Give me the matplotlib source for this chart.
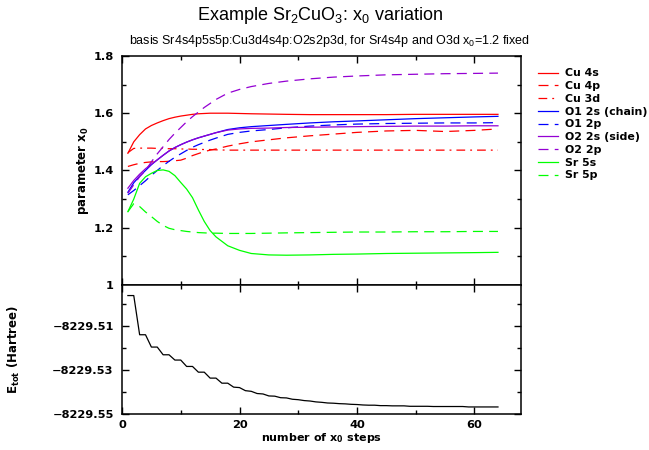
import numpy as np
import matplotlib
matplotlib.use("Agg")
import matplotlib.pyplot as plt
from matplotlib.ticker import MultipleLocator, FixedLocator, FuncFormatter

plt.rcParams['font.family'] = ['Liberation Sans', 'DejaVu Sans']
plt.rcParams['mathtext.default'] = 'regular'

# x0 parameters per step
steps = [1, 2, 3, 4, 5, 6, 7, 8, 9, 10, 11, 12, 13, 14, 15, 16, 18, 20, 22, 25, 28, 32, 36, 40, 45, 50, 55, 60, 64]
cu4s = [1.460, 1.500, 1.525, 1.545, 1.557, 1.566, 1.574, 1.581, 1.586, 1.590, 1.593, 1.596, 1.598, 1.599, 1.600,
        1.600, 1.600, 1.599, 1.598, 1.597, 1.596, 1.595, 1.595, 1.595, 1.595, 1.596, 1.596, 1.596, 1.596]
cu4p = [1.414, 1.420, 1.425, 1.428, 1.430, 1.431, 1.431, 1.432, 1.434, 1.436, 1.443, 1.452, 1.459, 1.466, 1.471,
        1.475, 1.485, 1.493, 1.500, 1.507, 1.514, 1.521, 1.527, 1.533, 1.538, 1.540, 1.536, 1.540, 1.545]
cu3d = [1.462, 1.477, 1.478, 1.478, 1.478, 1.477, 1.477, 1.476, 1.476, 1.475, 1.475, 1.474, 1.474, 1.473, 1.473,
        1.472, 1.471, 1.471, 1.471, 1.471, 1.471, 1.471, 1.471, 1.471, 1.471, 1.471, 1.471, 1.471, 1.471]
o1_2s = [1.324, 1.357, 1.380, 1.400, 1.420, 1.437, 1.453, 1.468, 1.480, 1.490, 1.499, 1.507, 1.514, 1.520, 1.526,
         1.532, 1.543, 1.549, 1.553, 1.557, 1.561, 1.566, 1.570, 1.573, 1.577, 1.581, 1.584, 1.587, 1.589]
o1_2p = [1.315, 1.330, 1.347, 1.364, 1.383, 1.400, 1.417, 1.432, 1.446, 1.458, 1.470, 1.481, 1.490, 1.498, 1.506,
         1.513, 1.526, 1.533, 1.538, 1.543, 1.549, 1.555, 1.559, 1.562, 1.564, 1.565, 1.566, 1.566, 1.567]
o2_2s = [1.338, 1.365, 1.387, 1.406, 1.422, 1.437, 1.453, 1.468, 1.480, 1.490, 1.499, 1.507, 1.514, 1.520, 1.526,
         1.532, 1.541, 1.545, 1.547, 1.548, 1.550, 1.551, 1.552, 1.553, 1.554, 1.555, 1.555, 1.556, 1.556]
o2_2p = [1.320, 1.350, 1.378, 1.400, 1.430, 1.458, 1.483, 1.508, 1.530, 1.550, 1.570, 1.588, 1.604, 1.620, 1.634,
         1.648, 1.670, 1.683, 1.693, 1.704, 1.712, 1.720, 1.726, 1.730, 1.734, 1.736, 1.738, 1.739, 1.740]
sr5s = [1.256, 1.300, 1.355, 1.378, 1.390, 1.400, 1.402, 1.397, 1.382, 1.358, 1.335, 1.305, 1.262, 1.222, 1.190,
        1.168, 1.137, 1.121, 1.110, 1.105, 1.104, 1.105, 1.107, 1.108, 1.110, 1.111, 1.112, 1.113, 1.114]
sr5p = [1.256, 1.284, 1.274, 1.255, 1.239, 1.222, 1.208, 1.198, 1.193, 1.190, 1.187, 1.185, 1.183, 1.182, 1.181,
        1.181, 1.180, 1.180, 1.180, 1.181, 1.182, 1.183, 1.184, 1.185, 1.185, 1.186, 1.186, 1.187, 1.187]

# total energy per step
e_steps = list(range(1, 65))
e_tot = [-8229.4962, -8229.4962, -8229.5140, -8229.5140, -8229.5196, -8229.5196, -8229.5231, -8229.5231,
         -8229.5255, -8229.5255, -8229.5284, -8229.5284, -8229.5310, -8229.5310, -8229.5337, -8229.5337,
         -8229.5360, -8229.5360, -8229.5378, -8229.5380, -8229.5394, -8229.5397, -8229.5407, -8229.5409,
         -8229.5418, -8229.5419, -8229.5426, -8229.5427, -8229.5433, -8229.5435, -8229.5439, -8229.5441,
         -8229.5445, -8229.5447, -8229.5450, -8229.5451, -8229.5453, -8229.5454, -8229.5456, -8229.5457,
         -8229.5459, -8229.5460, -8229.5460, -8229.5462, -8229.5462, -8229.5463, -8229.5463, -8229.5463,
         -8229.5465, -8229.5465, -8229.5465, -8229.5465, -8229.5466, -8229.5466, -8229.5466, -8229.5466,
         -8229.5466, -8229.5466, -8229.5468, -8229.5468, -8229.5468, -8229.5468, -8229.5468, -8229.5468]

series = [
    ("Cu 4s", cu4s, "#ff0000", "-"),
    ("Cu 4p", cu4p, "#ff0000", (0, (8, 5))),
    ("Cu 3d", cu3d, "#ff0000", (0, (7, 4, 1.5, 4))),
    ("O1 2s (chain)", o1_2s, "#0000ff", "-"),
    ("O1 2p", o1_2p, "#0000ff", (0, (8, 5))),
    ("O2 2s (side)", o2_2s, "#9400d3", "-"),
    ("O2 2p", o2_2p, "#9400d3", (0, (8, 5))),
    ("Sr 5s", sr5s, "#00ff00", "-"),
    ("Sr 5p", sr5p, "#00ff00", (0, (8, 5))),
]

# bold texts in the reference are wide, DejaVu Sans Bold fits them better
bold = {"family": "DejaVu Sans", "weight": "bold"}

fig = plt.figure(figsize=(6.49, 4.5), dpi=100)
ax1 = fig.add_axes([0.188, 0.3667, 0.6155, 0.509])
ax2 = fig.add_axes([0.188, 0.08, 0.6155, 0.2867])

for name, vals, col, ls in series:
    ax1.plot(steps, vals, color=col, linestyle=ls, lw=0.9, label=name)

ax2.plot(e_steps, e_tot, color="black", lw=0.9)

for ax in (ax1, ax2):
    ax.set_xlim(0, 68)
    ax.xaxis.set_major_locator(MultipleLocator(20))
    ax.xaxis.set_minor_locator(MultipleLocator(10))
    ax.tick_params(which="both", direction="in", top=True, right=True)
    ax.tick_params(which="major", length=5, width=1)
    ax.tick_params(which="minor", length=3, width=1)
    for s in ax.spines.values():
        s.set_linewidth(1.1)

ax1.set_ylim(1.0, 1.8)
ax1.yaxis.set_major_locator(MultipleLocator(0.2))
ax1.yaxis.set_minor_locator(MultipleLocator(0.1))
ax1.yaxis.set_major_formatter(FuncFormatter(lambda v, p: f"{v:g}"))
ax1.tick_params(axis="x", labelbottom=False)
ax1.tick_params(axis="y", pad=6)

ax2.set_ylim(-8229.55, -8229.4914)
ax2.yaxis.set_major_locator(FixedLocator([-8229.55, -8229.53, -8229.51]))
ax2.yaxis.set_minor_locator(FixedLocator([-8229.54, -8229.52, -8229.50]))
ax2.yaxis.set_major_formatter(FuncFormatter(lambda v, p: f"{v:.2f}".replace("-", "\u2212")))
ax2.tick_params(axis="y", pad=6)
ax2.tick_params(axis="x", pad=4)

for ax in (ax1, ax2):
    for lab in ax.get_xticklabels() + ax.get_yticklabels():
        lab.set_fontfamily("DejaVu Sans")
        lab.set_fontweight("bold")
        lab.set_fontsize(8.2)

ax1.set_ylabel("parameter x$_0$", fontsize=8.5, **bold)
ax1.yaxis.set_label_coords(-0.078, 0.5)
ax2.set_ylabel("E$_{tot}$ (Hartree)", fontsize=8.5, **bold)
ax2.yaxis.set_label_coords(-0.25, 0.5)
ax2.set_xlabel("number of x$_0$ steps", fontsize=8, **bold)
ax2.xaxis.set_label_coords(0.5, -0.13)

fig.text(0.493, 0.966, "Example Sr$_2$CuO$_3$: x$_0$ variation", ha="center", va="center", fontsize=13)
fig.text(0.507, 0.909, "basis Sr4s4p5s5p:Cu3d4s4p:O2s2p3d, for Sr4s4p and O3d x$_0$=1.2 fixed",
         ha="center", va="center", fontsize=9)

ax1.legend(loc="upper left", bbox_to_anchor=(0.829, 0.848), bbox_transform=fig.transFigure,
           frameon=False, borderpad=0, borderaxespad=0, handlelength=1.8, handletextpad=0.7,
           labelspacing=0.25, prop={"family": "DejaVu Sans", "size": 7.9, "weight": "bold"})

fig.savefig("out.png", dpi=100)
